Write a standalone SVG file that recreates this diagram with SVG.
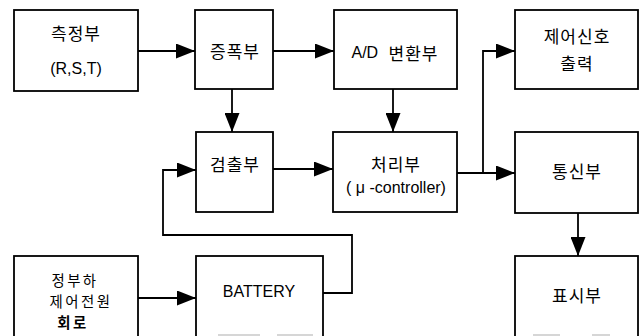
<svg xmlns="http://www.w3.org/2000/svg" width="644" height="336" viewBox="0 0 644 336">
<style>
.box{fill:#fff;stroke:#000;stroke-width:1.8}
.ln{fill:none;stroke:#000;stroke-width:1.8}
.k{font-family:"Noto Sans CJK KR","Liberation Sans",sans-serif;font-size:17px;letter-spacing:1px;text-anchor:middle;dominant-baseline:central;fill:#000}
.p{font-size:14.4px;letter-spacing:2.5px}
.l{font-family:"Liberation Sans","Noto Sans CJK KR",sans-serif;font-size:16px;text-anchor:middle;dominant-baseline:central;fill:#000}
.g{stroke:#c8c8c8;stroke-width:1.5}
</style>
<defs>
<marker id="ah" viewBox="0 0 19 15" refX="19" refY="7.5" markerWidth="19" markerHeight="15" markerUnits="userSpaceOnUse" orient="auto">
<path d="M0,0 L19,7.5 L0,15 Z" fill="#000"/>
</marker>
</defs>
<rect width="644" height="336" fill="#fff"/>
<g id="connectors">
<path class="ln" d="M138,51 H195" marker-end="url(#ah)"/>
<path class="ln" d="M273,51 H334" marker-end="url(#ah)"/>
<path class="ln" d="M232,89 V132" marker-end="url(#ah)"/>
<path class="ln" d="M393,89 V132" marker-end="url(#ah)"/>
<path class="ln" d="M273,169 H333" marker-end="url(#ah)"/>
<path class="ln" d="M457,173 H515" marker-end="url(#ah)"/>
<path class="ln" d="M483,173 V51 H515" marker-end="url(#ah)"/>
<path class="ln" d="M578,213 V256" marker-end="url(#ah)"/>
<path class="ln" d="M138,298 H196" marker-end="url(#ah)"/>
<path class="ln" d="M323,293 H352 V235 H163 V170 H196" marker-end="url(#ah)"/>
</g>
<g id="n-measure">
<rect class="box" x="14" y="10" width="124" height="81"/>
<text class="k" x="76" y="32">측정부</text>
<text class="l" x="76" y="68">(R,S,T)</text>
</g>
<g id="n-amp">
<rect class="box" x="195" y="10" width="78" height="79"/>
<text class="k" x="235" y="50">증폭부</text>
</g>
<g id="n-ad">
<rect class="box" x="334" y="10" width="123" height="79"/>
<text class="l" x="395" y="52">A/D <tspan class="k" dx="6">변환부</tspan></text>
</g>
<g id="n-ctrlout">
<rect class="box" x="515" y="10" width="123" height="79"/>
<text class="k" x="577" y="35">제어신호</text>
<text class="k" x="577" y="62">출력</text>
</g>
<g id="n-detect">
<rect class="box" x="196" y="132" width="77" height="80"/>
<text class="k" x="235" y="163">검출부</text>
</g>
<g id="n-proc">
<rect class="box" x="333" y="132" width="124" height="80"/>
<text class="k" x="396" y="163">처리부</text>
<text class="l" x="396" y="187">( μ -controller)</text>
</g>
<g id="n-comm">
<rect class="box" x="515" y="132" width="123" height="81"/>
<text class="k" x="577" y="170">통신부</text>
</g>
<g id="n-power">
<rect class="box" x="14" y="256" width="124" height="95"/>
<text class="k p" x="75" y="279">정부하</text>
<text class="k p" x="81" y="300">제어전원</text>
<text class="k p" x="73" y="321" style="font-weight:bold">회로</text>
</g>
<g id="n-battery">
<rect class="box" x="196" y="256" width="127" height="95"/>
<text class="l" x="259" y="291">BATTERY</text>
<line class="g" x1="218" y1="335" x2="260" y2="335"/>
<line class="g" x1="277" y1="335" x2="313" y2="335"/>
</g>
<g id="n-display">
<rect class="box" x="515" y="256" width="123" height="95"/>
<text class="k" x="577" y="294">표시부</text>
<line class="g" x1="533" y1="335" x2="560" y2="335"/>
<line class="g" x1="592" y1="335" x2="610" y2="335"/>
</g>
</svg>
